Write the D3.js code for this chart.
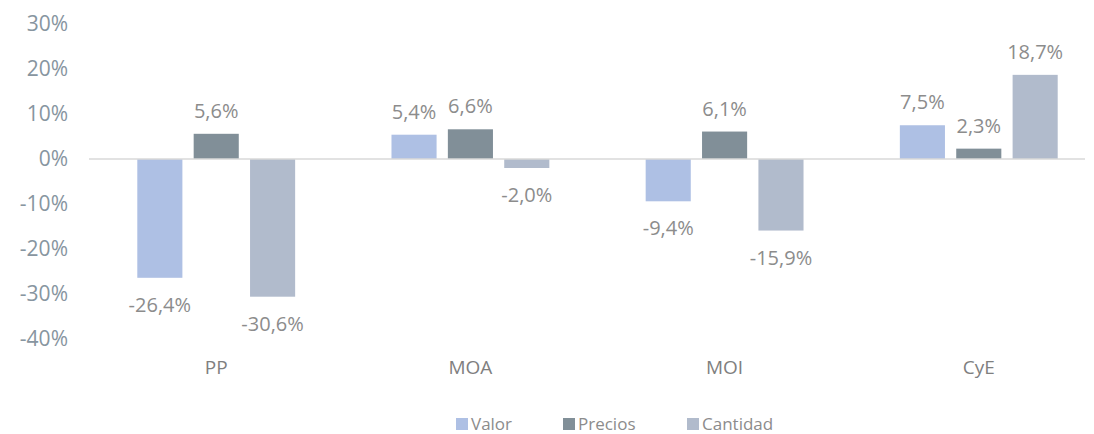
<!DOCTYPE html>
<html>
<head>
<meta charset="utf-8">
<script src="https://cdn.jsdelivr.net/npm/d3@7"></script>
<style>
  body { margin: 0; background: #fff; }
  svg text { font-family: "Open Sans", "Noto Sans", sans-serif; }
</style>
</head>
<body>
<svg id="chart" width="1094" height="434"></svg>
<script>
var categories = ["PP", "MOA", "MOI", "CyE"];
var series = ["Valor", "Precios", "Cantidad"];
var valor = [-26.4, 5.4, -9.4, 7.5];
var precios = [5.6, 6.6, 6.1, 2.3];
var cantidad = [-30.6, -2.0, -15.9, 18.7];
var yTicks = [30, 20, 10, 0, -10, -20, -30, -40];

var colors = { "Valor": "#aec0e4", "Precios": "#818f98", "Cantidad": "#b1bbcc" };
var values = { "Valor": valor, "Precios": precios, "Cantidad": cantidad };

var svg = d3.select("#chart");

var y = d3.scaleLinear().domain([-40, 30]).range([339, 24]);
var x0 = d3.scaleBand().domain(categories).range([89, 1106]).paddingInner(0.379).paddingOuter(0.19);
var x1 = d3.scaleBand().domain(series).range([0, x0.bandwidth()]).paddingInner(0.2);

var fmt = function (v) { return v.toFixed(1).replace(".", ",") + "%"; };

// y axis labels
var yAxis = d3.axisLeft(y).tickValues(yTicks).tickSize(0).tickPadding(0)
  .tickFormat(function (d) { return d + "%"; });
var gy = svg.append("g").attr("transform", "translate(68,0)").call(yAxis);
gy.select(".domain").remove();
gy.selectAll("text").attr("fill", "#8795a0").style("font-size", "21px")
  .style("font-family", "'Open Sans', sans-serif");

// bars
var groups = svg.selectAll("g.cat").data(categories).enter().append("g")
  .attr("class", "cat")
  .attr("transform", function (d) { return "translate(" + x0(d) + ",0)"; });

series.forEach(function (s) {
  groups.append("rect")
    .attr("x", x1(s))
    .attr("width", x1.bandwidth())
    .attr("y", function (d, i) { return y(Math.max(0, values[s][i])); })
    .attr("height", function (d, i) { return Math.abs(y(values[s][i]) - y(0)); })
    .attr("fill", colors[s]);

  groups.append("text")
    .attr("x", x1(s) + x1.bandwidth() / 2)
    .attr("y", function (d, i) {
      var v = values[s][i];
      return v >= 0 ? y(v) - 16 : y(v) + 34;
    })
    .attr("text-anchor", "middle")
    .attr("fill", "#8c8c8c")
    .style("font-size", "20px")
    .text(function (d, i) { return fmt(values[s][i]); });
});

// zero line
svg.append("line")
  .attr("x1", 89).attr("x2", 1085)
  .attr("y1", y(0)).attr("y2", y(0))
  .attr("stroke", "#d9d9d9").attr("stroke-width", 1.5);

// category labels
var xAxis = d3.axisBottom(x0).tickSize(0).tickPadding(0);
var gx = svg.append("g").attr("transform", "translate(0,360)").call(xAxis);
gx.select(".domain").remove();
gx.selectAll("text").attr("fill", "#7f7f7f").style("font-size", "19px")
  .style("font-family", "'Open Sans', sans-serif");

// legend
var legendX = [456, 563, 687];
var legend = svg.selectAll("g.leg").data(series).enter().append("g")
  .attr("class", "leg")
  .attr("transform", function (d, i) { return "translate(" + legendX[i] + ",418)"; });
legend.append("rect").attr("width", 12).attr("height", 12).attr("fill", function (d) { return colors[d]; });
legend.append("text").attr("x", 15).attr("y", 12).attr("fill", "#8c8c8c")
  .style("font-size", "17px").text(function (d) { return d; });
</script>
</body>
</html>
